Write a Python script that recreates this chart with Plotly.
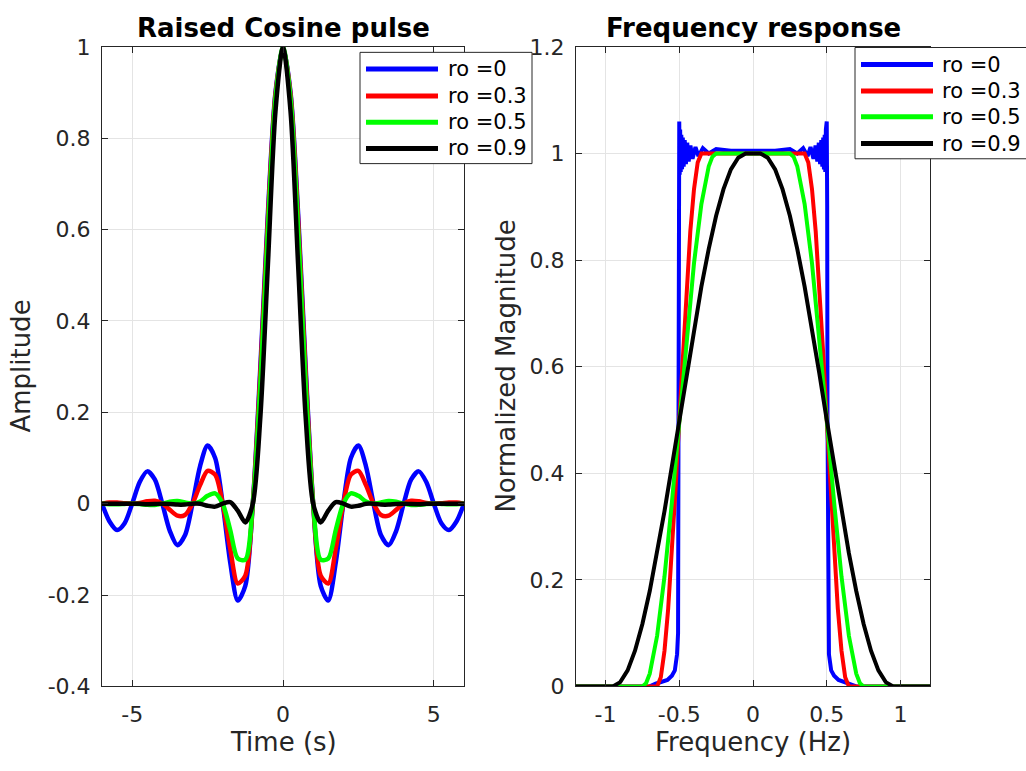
import plotly.graph_objects as go

# ---------------- data: raised cosine pulse (time domain) ----------------
time_s = [-6.0, -5.75, -5.5, -5.25, -5.0, -4.75, -4.5, -4.25, -4.0, -3.75, -3.5, -3.25,
          -3.0, -2.75, -2.5, -2.25, -2.0, -1.75, -1.5, -1.25, -1.0, -0.75, -0.5, -0.25,
          0.0, 0.25, 0.5, 0.75, 1.0, 1.25, 1.5, 1.75, 2.0, 2.25, 2.5, 2.75, 3.0, 3.25,
          3.5, 3.75, 4.0, 4.25, 4.5, 4.75, 5.0, 5.25, 5.5, 5.75, 6.0]

pulse_ro0 = [0, -0.0391, -0.0579, -0.0429, 0, 0.0474, 0.0707, 0.0530, 0, -0.0600, -0.0909, -0.0693,
             0, 0.0818, 0.1273, 0.1000, 0, -0.1286, -0.2122, -0.1801, 0, 0.3001, 0.6366, 0.9003,
             1.0, 0.9003, 0.6366, 0.3001, 0, -0.1801, -0.2122, -0.1286, 0, 0.1000, 0.1273, 0.0818,
             0, -0.0693, -0.0909, -0.0600, 0, 0.0530, 0.0707, 0.0474, 0, -0.0429, -0.0579, -0.0391, 0]

pulse_ro03 = [0, 0.0023, 0.0027, 0.0011, 0, 0.0016, 0.0051, 0.0063, 0, -0.0136, -0.0263, -0.0247,
              0, 0.0405, 0.0720, 0.0635, 0, -0.0985, -0.1747, -0.1575, 0, 0.2861, 0.6233, 0.8956,
              1.0, 0.8956, 0.6233, 0.2861, 0, -0.1575, -0.1747, -0.0985, 0, 0.0635, 0.0720, 0.0405,
              0, -0.0247, -0.0263, -0.0136, 0, 0.0063, 0.0051, 0.0016, 0, 0.0011, 0.0027, 0.0023, 0]

pulse_ro05 = [0, -0.0011, -0.0014, -0.0006, 0, -0.0008, -0.0026, -0.0029, 0, 0.0042, 0.0057, 0.0028,
              0, 0.0048, 0.0171, 0.0227, 0, -0.0576, -0.1200, -0.1225, 0, 0.2625, 0.6002, 0.8872,
              1.0, 0.8872, 0.6002, 0.2625, 0, -0.1225, -0.1200, -0.0576, 0, 0.0227, 0.0171, 0.0048,
              0, 0.0028, 0.0057, 0.0042, 0, -0.0029, -0.0026, -0.0008, 0, -0.0006, -0.0014, -0.0011, 0]

pulse_ro09 = [0, 0, 0, 0, 0, -0.0004, -0.0011, -0.0008, 0, -0.0005, -0.0021, -0.0020,
              0, -0.0003, -0.0047, -0.0065, 0, 0.0034, -0.0153, -0.0410, 0, 0.1906, 0.5241, 0.8584,
              1.0, 0.8584, 0.5241, 0.1906, 0, -0.0410, -0.0153, 0.0034, 0, -0.0065, -0.0047, -0.0003,
              0, -0.0020, -0.0021, -0.0005, 0, -0.0008, -0.0011, -0.0004, 0, 0, 0, 0, 0]

# ---------------- data: frequency response ----------------
freq_ro0 = [-1.2, -0.7, -0.66, -0.62, -0.58, -0.55, -0.53, -0.515, -0.508, -0.505, -0.503, -0.5,
            -0.497, -0.494, -0.49, -0.486, -0.481, -0.476, -0.47, -0.463, -0.455, -0.446, -0.436,
            -0.424, -0.41, -0.39, -0.37, -0.34, -0.3, -0.25, -0.15, 0.0,
            0.15, 0.25, 0.3, 0.34, 0.37, 0.39, 0.41, 0.424, 0.436, 0.446, 0.455, 0.463, 0.47,
            0.476, 0.481, 0.486, 0.49, 0.494, 0.497, 0.5, 0.503, 0.505, 0.508, 0.515, 0.53, 0.55,
            0.58, 0.62, 0.66, 0.7, 1.2]
mag_ro0 = [0, 0, 0.005, 0.008, 0.012, 0.02, 0.03, 0.06, 0.1, 0.5, 0.9, 1.06,
           0.96, 1.045, 0.965, 1.035, 0.97, 1.03, 0.975, 1.025, 0.98, 1.02, 0.985,
           1.015, 0.99, 1.012, 0.995, 1.01, 1.0, 1.008, 1.005, 1.005,
           1.005, 1.008, 1.0, 1.01, 0.995, 1.012, 0.99, 1.015, 0.985, 1.02, 0.98, 1.025, 0.975,
           1.03, 0.97, 1.035, 0.965, 1.045, 0.96, 1.06, 0.9, 0.5, 0.1, 0.06, 0.03, 0.02,
           0.012, 0.008, 0.005, 0, 0]

freq_ro03 = [-1.2, -0.65, -0.625, -0.6, -0.575, -0.55, -0.525, -0.5, -0.475, -0.45, -0.425, -0.4,
             -0.375, -0.35, 0.35, 0.375, 0.4, 0.425, 0.45, 0.475, 0.5, 0.525, 0.55, 0.575, 0.6,
             0.625, 0.65, 1.2]
mag_ro03 = [0, 0, 0.017, 0.067, 0.146, 0.25, 0.371, 0.5, 0.629, 0.75, 0.854, 0.933,
            0.983, 1.0, 1.0, 0.983, 0.933, 0.854, 0.75, 0.629, 0.5, 0.371, 0.25, 0.146, 0.067,
            0.017, 0, 0]

freq_ro05 = [-1.2, -0.75, -0.725, -0.7, -0.65, -0.6, -0.55, -0.5, -0.45, -0.4, -0.35, -0.3,
             -0.275, -0.25, 0.25, 0.275, 0.3, 0.35, 0.4, 0.45, 0.5, 0.55, 0.6, 0.65, 0.7, 0.725,
             0.75, 1.2]
mag_ro05 = [0, 0, 0.006, 0.024, 0.095, 0.206, 0.345, 0.5, 0.655, 0.794, 0.905, 0.976,
            0.994, 1.0, 1.0, 0.994, 0.976, 0.905, 0.794, 0.655, 0.5, 0.345, 0.206, 0.095, 0.024,
            0.006, 0, 0]

freq_ro09 = [-1.2, -0.95, -0.9, -0.85, -0.8, -0.75, -0.7, -0.65, -0.6, -0.55, -0.5, -0.45,
             -0.4, -0.35, -0.3, -0.25, -0.2, -0.15, -0.1, -0.05, 0.05, 0.1, 0.15, 0.2, 0.25,
             0.3, 0.35, 0.4, 0.45, 0.5, 0.55, 0.6, 0.65, 0.7, 0.75, 0.8, 0.85, 0.9, 0.95, 1.2]
mag_ro09 = [0, 0, 0.008, 0.030, 0.067, 0.117, 0.179, 0.25, 0.329, 0.413, 0.5, 0.587,
            0.671, 0.75, 0.821, 0.883, 0.933, 0.970, 0.992, 1.0, 1.0, 0.992, 0.970, 0.933, 0.883,
            0.821, 0.75, 0.671, 0.587, 0.5, 0.413, 0.329, 0.25, 0.179, 0.117, 0.067, 0.030,
            0.008, 0, 0]

series_names = ["ro =0", "ro =0.3", "ro =0.5", "ro =0.9"]
series_colors = ["#0000ff", "#ff0000", "#00ff00", "#000000"]

left_x_ticks = [-5, 0, 5]
left_x_text = ["-5", "0", "5"]
left_y_ticks = [-0.4, -0.2, 0, 0.2, 0.4, 0.6, 0.8, 1]
left_y_text = ["-0.4", "-0.2", "0", "0.2", "0.4", "0.6", "0.8", "1"]
right_x_ticks = [-1, -0.5, 0, 0.5, 1]
right_x_text = ["-1", "-0.5", "0", "0.5", "1"]
right_y_ticks = [0, 0.2, 0.4, 0.6, 0.8, 1, 1.2]
right_y_text = ["0", "0.2", "0.4", "0.6", "0.8", "1", "1.2"]

# ---------------- figure ----------------
W, H = 1026, 771
FONT = "DejaVu Sans"
AX = "#262626"

def px(x):
    return x / W

def py(y):
    return 1 - y / H

fig = go.Figure()

pulses = [pulse_ro0, pulse_ro03, pulse_ro05, pulse_ro09]
for name, col, ys in zip(series_names, series_colors, pulses):
    fig.add_trace(go.Scatter(x=time_s, y=ys, mode="lines", name=name,
                             line=dict(color=col, width=4.5, shape="spline", smoothing=0.8),
                             xaxis="x", yaxis="y", showlegend=False))

freqs = [(freq_ro0, mag_ro0), (freq_ro03, mag_ro03), (freq_ro05, mag_ro05), (freq_ro09, mag_ro09)]
for name, col, (fx, fy) in zip(series_names, series_colors, freqs):
    fig.add_trace(go.Scatter(x=fx, y=fy, mode="lines", name=name,
                             line=dict(color=col, width=4),
                             xaxis="x2", yaxis="y2", showlegend=False))

axis_common = dict(showline=True, linecolor=AX, linewidth=1, mirror="ticks",
                   ticks="inside", ticklen=6, tickcolor=AX, tickwidth=1,
                   showgrid=True, gridcolor="#e4e4e4", gridwidth=1, zeroline=False,
                   tickfont=dict(family=FONT, size=22, color=AX), tickmode="array")

y_dom = [py(697), py(36)]
fig.update_layout(
    width=W, height=H, margin=dict(l=0, r=0, t=0, b=0),
    paper_bgcolor="white", plot_bgcolor="white",
    font=dict(family=FONT, color=AX),
    xaxis=dict(domain=[px(102), px(464)], range=[-6, 6], tickvals=left_x_ticks,
               ticktext=left_x_text, anchor="y", ticklabelstandoff=8, **axis_common),
    yaxis=dict(domain=y_dom, range=[-0.4, 1], tickvals=left_y_ticks,
               ticktext=left_y_text, anchor="x", ticklabelstandoff=6, **axis_common),
    xaxis2=dict(domain=[px(576), px(930)], range=[-1.2, 1.2], tickvals=right_x_ticks,
                ticktext=right_x_text, anchor="y2", ticklabelstandoff=8, **axis_common),
    yaxis2=dict(domain=y_dom, range=[0, 1.2], tickvals=right_y_ticks,
                ticktext=right_y_text, anchor="x2", ticklabelstandoff=6, **axis_common),
)

annotations = []
# subplot titles
for text, cx in [("<b>Raised Cosine pulse</b>", 283), ("<b>Frequency response</b>", 753)]:
    annotations.append(dict(text=text, x=px(cx), y=py(17), xref="paper", yref="paper",
                            xanchor="center", yanchor="middle", showarrow=False,
                            font=dict(family=FONT, size=26, color="black")))
# axis titles
for text, cx in [("Time (s)", 283), ("Frequency (Hz)", 753)]:
    annotations.append(dict(text=text, x=px(cx), y=py(754), xref="paper", yref="paper",
                            xanchor="center", yanchor="middle", showarrow=False,
                            font=dict(family=FONT, size=26, color=AX)))
for text, cx in [("Amplitude", 21), ("Normalized Magnitude", 506)]:
    annotations.append(dict(text=text, x=px(cx), y=py(366.5), xref="paper", yref="paper",
                            xanchor="center", yanchor="middle", showarrow=False, textangle=-90,
                            font=dict(family=FONT, size=26, color=AX)))

# legends (drawn with shapes + text so the line samples are long like the original)
shapes = []
legends = [
    dict(box=(360, 41.7, 532, 156.7), line_x=(366, 438), text_x=446, rows=[59, 86.7, 114, 141]),
    dict(box=(855, 36.7, 1030, 151.7), line_x=(861, 933), text_x=940, rows=[54.3, 81.7, 108.3, 136]),
]
for lg in legends:
    x0, y0, x1, y1 = lg["box"]
    shapes.append(dict(type="rect", xref="paper", yref="paper", x0=px(x0), x1=px(x1),
                       y0=py(y1), y1=py(y0), fillcolor="white",
                       line=dict(color=AX, width=1), layer="above"))
    for name, col, ry in zip(series_names, series_colors, lg["rows"]):
        shapes.append(dict(type="line", xref="paper", yref="paper",
                           x0=px(lg["line_x"][0]), x1=px(lg["line_x"][1]),
                           y0=py(ry), y1=py(ry), line=dict(color=col, width=5), layer="above"))
        annotations.append(dict(text=name, x=px(lg["text_x"]), y=py(ry), xref="paper",
                                yref="paper", xanchor="left", yanchor="middle", showarrow=False,
                                font=dict(family=FONT, size=21, color="black")))

fig.update_layout(annotations=annotations, shapes=shapes)
fig.write_html("out.html")
